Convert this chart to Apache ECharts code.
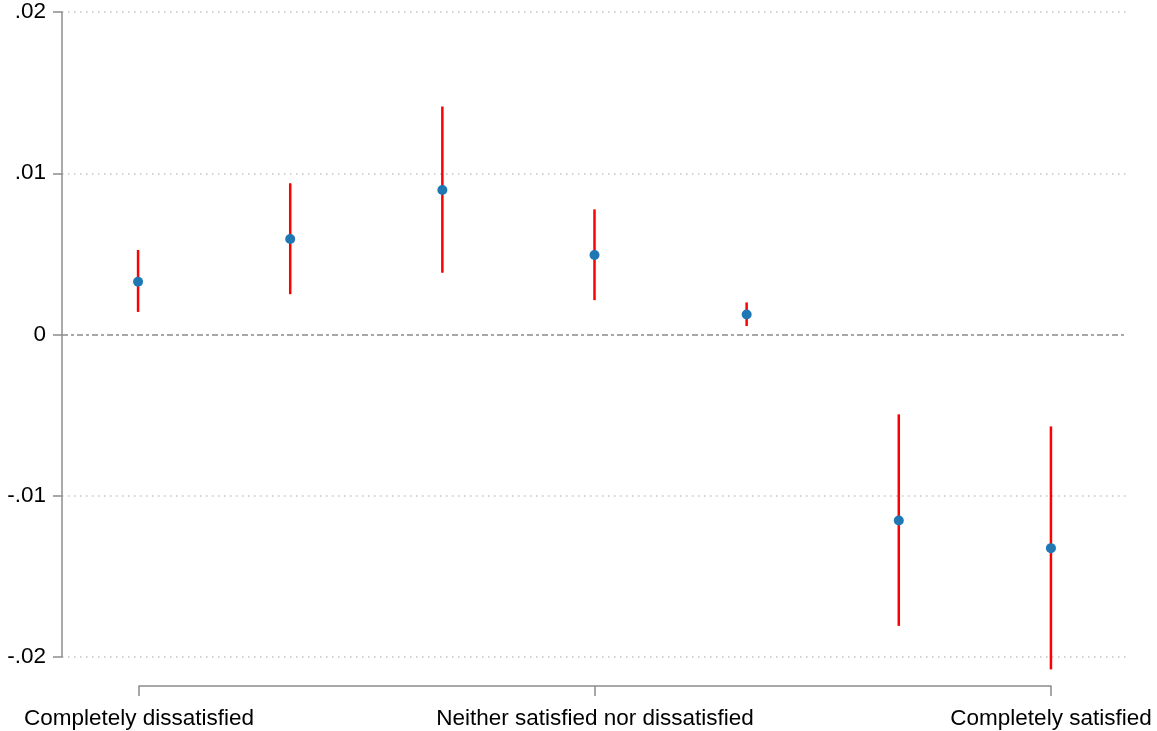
<!DOCTYPE html>
<html>
<head>
<meta charset="utf-8">
<script src="https://cdn.jsdelivr.net/npm/echarts@6/dist/echarts.min.js"></script>
<style>
html,body{margin:0;padding:0;background:#fff;}
#chart{width:1157px;height:731px;}
</style>
</head>
<body>
<div id="chart"></div>
<script>
// Data
var positions = [1, 2, 3, 4, 5, 6, 7];
var estimates = [0.00327, 0.00592, 0.00896, 0.00493, 0.00124, -0.01153, -0.01325];
var ciLow = [0.0014, 0.0025, 0.00383, 0.00213, 0.00053, -0.01807, -0.02077];
var ciHigh = [0.00524, 0.00938, 0.01414, 0.00776, 0.00199, -0.00495, -0.0057];
var xTickValues = [1, 4, 7];
var xTickLabels = ['Completely dissatisfied', 'Neither satisfied nor dissatisfied', 'Completely satisfied'];
var yTickValues = [-0.02, -0.01, 0, 0.01, 0.02];
var yTickLabels = ['-.02', '-.01', '0', '.01', '.02'];

var FONT = 'Liberation Sans, Arial, sans-serif';
var chart = echarts.init(document.getElementById('chart'), null, {renderer: 'canvas'});

function yLabel(v) {
  for (var i = 0; i < yTickValues.length; i++) {
    if (Math.abs(v - yTickValues[i]) < 1e-9) return yTickLabels[i];
  }
  return '';
}
function xLabel(v) {
  for (var i = 0; i < xTickValues.length; i++) {
    if (Math.abs(v - xTickValues[i]) < 1e-9) return xTickLabels[i];
  }
  return '';
}

var pointData = positions.map(function (p, i) { return [p, estimates[i]]; });
var ciData = positions.map(function (p, i) { return [p, ciLow[i], ciHigh[i]]; });

var option = {
  animation: false,
  backgroundColor: '#ffffff',
  grid: [
    {left: 62, top: 12, width: 1065, height: 645},
    {left: 139, right: 106, top: 685, height: 1}
  ],
  xAxis: [
    {gridIndex: 0, type: 'value', min: 0.5, max: 7.5, show: false},
    {
      gridIndex: 1, type: 'value', min: 1, max: 7, position: 'bottom',
      axisLine: {show: true, lineStyle: {color: '#8c8c8c', width: 1.5}},
      axisTick: {show: true, length: 10, customValues: xTickValues, lineStyle: {color: '#8c8c8c', width: 1.5}},
      axisLabel: {show: true, customValues: xTickValues, formatter: xLabel, margin: 21,
        fontSize: 22.5, fontFamily: FONT, color: '#000'},
      splitLine: {show: false}
    }
  ],
  yAxis: [
    {
      gridIndex: 0, type: 'value', min: -0.02, max: 0.02, interval: 0.01,
      axisLine: {show: true, lineStyle: {color: '#8c8c8c', width: 1.5}},
      axisTick: {show: true, length: 9, lineStyle: {color: '#8c8c8c', width: 1.5}},
      axisLabel: {formatter: yLabel, margin: 16, fontSize: 22.5, fontFamily: FONT, color: '#000',
        padding: [4, 0, 0, 0]},
      splitLine: {show: true, lineStyle: {
        color: ['#c4c4c4', '#c4c4c4', 'rgba(0,0,0,0)', '#c4c4c4', '#c4c4c4'],
        type: [1.5, 4.5], width: 1.5}}
    },
    {gridIndex: 1, type: 'value', show: false}
  ],
  series: [
    {
      type: 'custom',
      xAxisIndex: 0, yAxisIndex: 0,
      clip: false,
      data: ciData,
      renderItem: function (params, api) {
        var x = api.value(0);
        var p1 = api.coord([x, api.value(1)]);
        var p2 = api.coord([x, api.value(2)]);
        return {
          type: 'line',
          shape: {x1: p1[0], y1: p1[1], x2: p2[0], y2: p2[1]},
          style: {stroke: '#ff0000', lineWidth: 2.5}
        };
      },
      z: 2
    },
    {
      type: 'scatter',
      xAxisIndex: 0, yAxisIndex: 0,
      data: pointData,
      symbol: 'circle',
      symbolSize: 10,
      itemStyle: {color: '#1f77b4', opacity: 1},
      z: 3,
      markLine: {
        silent: true,
        symbol: ['none', 'none'],
        label: {show: false},
        lineStyle: {color: '#8a8a8a', type: [6, 3, 3, 3], width: 1.5},
        data: [{yAxis: 0}]
      }
    }
  ]
};
chart.setOption(option);
</script>
</body>
</html>
